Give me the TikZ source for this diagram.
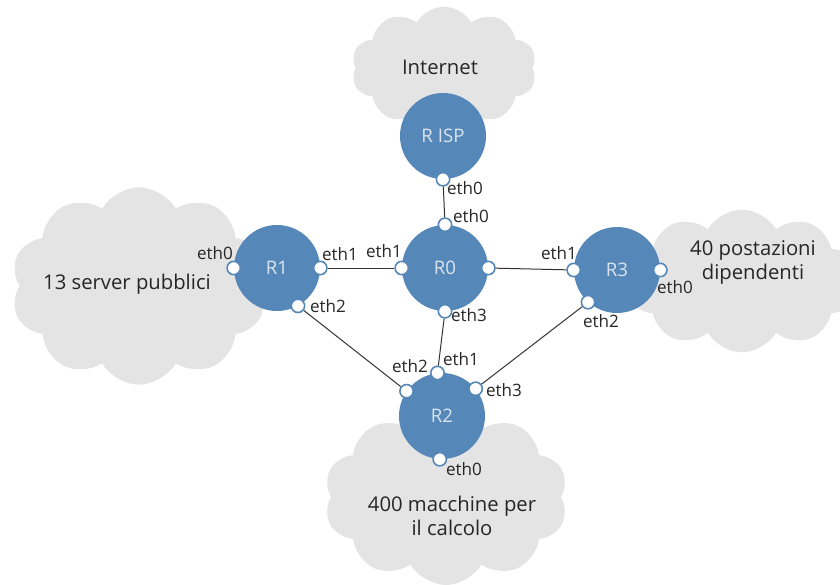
\documentclass[tikz,border=0pt]{standalone}
\usepackage{fontspec}
\setmainfont{Open Sans}
\usetikzlibrary{shapes.symbols}
\definecolor{routerblue}{HTML}{5587B8}
\definecolor{cloudgray}{HTML}{E4E4E4}
\definecolor{linkgray}{HTML}{333333}

\begin{document}
\begin{tikzpicture}[x=0.75pt,y=-0.75pt]
  \tikzset{router/.style = {circle, fill=routerblue, minimum size=64.5pt, inner sep=0pt,
      text=white!78!routerblue, font=\fontsize{14}{17}\selectfont},
    port/.style = {circle, draw=routerblue, line width=1.2pt, fill=white, minimum size=10pt, inner sep=0pt},
    eth/.style = {inner sep=0pt, font=\fontsize{12.8}{15}\selectfont, text=black!85},
    net cloud/.style = {cloud, cloud puffs=10, cloud puff arc=120, fill=cloudgray, inner sep=0pt},
    net text/.style = {align=center, font=\fontsize{15.2}{18}\selectfont, text=black!85},
    link/.style = {draw=linkgray, line width=0.75pt}}
  \useasboundingbox (0,0) rectangle (840,585);
  % clouds
  \node[net cloud, minimum width=139pt, minimum height=92pt] (cloudisp) at (444,68) {};
  \node[net cloud, minimum width=192pt, minimum height=148pt] (cloudsrv) at (139,286) {};
  \node[net cloud, minimum width=172pt, minimum height=107pt] (cloudpc) at (742,281) {};
  \node[net cloud, minimum width=183pt, minimum height=132pt] (cloudcalc) at (446,497) {};
  \node[net text] (tisp) at (440,67) {Internet};
  \node[net text] (tsrv) at (127,284) {13 server pubblici};
  \node[net text] (tpc) at (753,262) {40 postazioni\\dipendenti};
  \node[net text] (tcalc) at (452,516) {400 macchine per\\il calcolo};
  % routers
  \node[router] (risp) at (443,136) {R ISP};
  \node[router] (r0) at (445,268) {R0};
  \node[router] (r1) at (277,268) {R1};
  \node[router] (r2) at (442,416) {R2};
  \node[router] (r3) at (617,270) {R3};
  % ports
  \node[port] (risp0) at (risp.270) {};
  \node[port] (r0p0) at (r0.90) {};
  \node[port] (r0p1) at (r0.180) {};
  \node[port] (r0p2) at (r0.0) {};
  \node[port] (r0p3) at (r0.270) {};
  \node[port] (r1p0) at (r1.180) {};
  \node[port] (r1p1) at (r1.0) {};
  \node[port] (r1p2) at (r1.-61) {};
  \node[port] (r2p0) at (r2.267) {};
  \node[port] (r2p1) at (r2.96) {};
  \node[port] (r2p2) at (r2.145) {};
  \node[port] (r2p3) at (r2.39) {};
  \node[port] (r3p0) at (r3.0) {};
  \node[port] (r3p1) at (r3.180) {};
  \node[port] (r3p2) at (r3.-132) {};
  % links
  \draw[link] (risp0) -- (r0p0);
  \draw[link] (r1p1) -- (r0p1);
  \draw[link] (r0p2) -- (r3p1);
  \draw[link] (r1p2) -- (r2p2);
  \draw[link] (r0p3) -- (r2p1);
  \draw[link] (r3p2) -- (r2p3);
  % port labels
  \node[eth] (lrisp0) at (465,188) {eth0};
  \node[eth] (lr0p0) at (471,216) {eth0};
  \node[eth] (lr0p1) at (384,251) {eth1};
  \node[eth] (lr0p3) at (469,315) {eth3};
  \node[eth] (lr1p0) at (215,253) {eth0};
  \node[eth] (lr1p1) at (340,254) {eth1};
  \node[eth] (lr1p2) at (328,306) {eth2};
  \node[eth] (lr3p1) at (559,253) {eth1};
  \node[eth] (lr3p0) at (675,287) {eth0};
  \node[eth] (lr3p2) at (601,321) {eth2};
  \node[eth] (lr2p2) at (410,366) {eth2};
  \node[eth] (lr2p1) at (461,359) {eth1};
  \node[eth] (lr2p3) at (504,390) {eth3};
  \node[eth] (lr2p0) at (464,469) {eth0};
\end{tikzpicture}
\end{document}
